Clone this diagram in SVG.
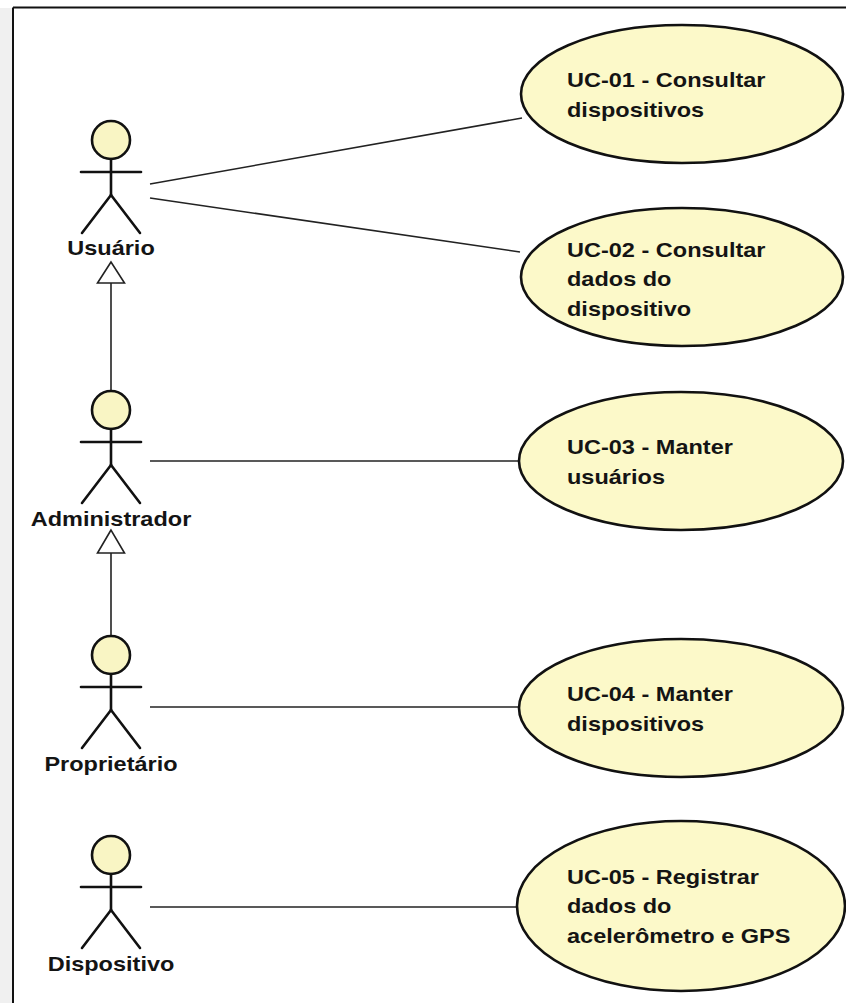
<svg xmlns="http://www.w3.org/2000/svg" width="846" height="1003" viewBox="0 0 846 1003">
  <style>
    .actor line, .actor circle { stroke: #111; stroke-width: 2.6; stroke-linecap: round; }
    .actor circle { fill: #f9f5c4; }
    .actor line { fill: none; }
    .uc ellipse { fill: #fcf9c9; stroke: #111; stroke-width: 2.6; }
    .lbl { font-family: "Liberation Sans", Arial, sans-serif; font-weight: bold; font-size: 21px; fill: #141414; }
    .mid { text-anchor: middle; }
    .assoc { stroke: #222; stroke-width: 1.6; fill: none; }
    .gen-head { fill: #fff; stroke: #222; stroke-width: 1.6; stroke-linejoin: miter; }
  </style>

  <!-- canvas and frame -->
  <rect x="0" y="0" width="846" height="1003" fill="#ffffff"/>
  <rect x="0" y="8" width="12" height="995" fill="#f0f0f0"/>
  <line x1="13" y1="7.5" x2="846" y2="7.5" stroke="#111" stroke-width="2"/>
  <line x1="13" y1="7.5" x2="13" y2="1003" stroke="#111" stroke-width="2"/>

  <!-- connectors -->
  <g id="connectors">
    <line class="assoc" x1="150" y1="184" x2="522" y2="118"/>
    <line class="assoc" x1="150" y1="198" x2="520" y2="252"/>
    <line class="assoc" x1="150" y1="461" x2="519" y2="461"/>
    <line class="assoc" x1="150" y1="707" x2="519" y2="707"/>
    <line class="assoc" x1="150" y1="907" x2="517" y2="907"/>
    <!-- generalizations -->
    <line class="assoc" x1="111" y1="391" x2="111" y2="283"/>
    <polygon class="gen-head" points="111,262 97.5,283 124.5,283"/>
    <line class="assoc" x1="111" y1="636" x2="111" y2="553"/>
    <polygon class="gen-head" points="111,530 97.5,553 124.5,553"/>
  </g>

  <!-- actors -->
  <g id="actor-usuario" class="actor">
    <circle cx="111" cy="140" r="19"/>
    <line x1="111" y1="159" x2="111" y2="195"/>
    <line x1="81" y1="172" x2="141" y2="172"/>
    <line x1="111" y1="195" x2="82" y2="233"/>
    <line x1="111" y1="195" x2="140" y2="233"/>
    <text class="lbl mid" transform="translate(111 255) scale(1.12 1)">Usuário</text>
  </g>

  <g id="actor-administrador" class="actor">
    <circle cx="111" cy="410" r="19"/>
    <line x1="111" y1="429" x2="111" y2="465"/>
    <line x1="81" y1="442" x2="141" y2="442"/>
    <line x1="111" y1="465" x2="82" y2="503"/>
    <line x1="111" y1="465" x2="140" y2="503"/>
    <text class="lbl mid" transform="translate(111 526) scale(1.12 1)">Administrador</text>
  </g>

  <g id="actor-proprietario" class="actor">
    <circle cx="111" cy="655" r="19"/>
    <line x1="111" y1="674" x2="111" y2="710"/>
    <line x1="81" y1="687" x2="141" y2="687"/>
    <line x1="111" y1="710" x2="82" y2="748"/>
    <line x1="111" y1="710" x2="140" y2="748"/>
    <text class="lbl mid" transform="translate(111 771) scale(1.12 1)">Proprietário</text>
  </g>

  <g id="actor-dispositivo" class="actor">
    <circle cx="111" cy="855" r="19"/>
    <line x1="111" y1="874" x2="111" y2="910"/>
    <line x1="81" y1="887" x2="141" y2="887"/>
    <line x1="111" y1="910" x2="82" y2="948"/>
    <line x1="111" y1="910" x2="140" y2="948"/>
    <text class="lbl mid" transform="translate(111 971) scale(1.12 1)">Dispositivo</text>
  </g>

  <!-- use cases -->
  <g id="uc-01" class="uc">
    <ellipse cx="682" cy="94" rx="161" ry="69"/>
    <text class="lbl" transform="translate(567 87) scale(1.12 1)"><tspan x="0" y="0">UC-01 - Consultar</tspan><tspan x="0" y="30">dispositivos</tspan></text>
  </g>

  <g id="uc-02" class="uc">
    <ellipse cx="682" cy="277" rx="161" ry="69"/>
    <text class="lbl" transform="translate(567 257) scale(1.12 1)"><tspan x="0" y="0">UC-02 - Consultar</tspan><tspan x="0" y="29.5">dados do</tspan><tspan x="0" y="59">dispositivo</tspan></text>
  </g>

  <g id="uc-03" class="uc">
    <ellipse cx="681" cy="461" rx="162" ry="69"/>
    <text class="lbl" transform="translate(567 454) scale(1.12 1)"><tspan x="0" y="0">UC-03 - Manter</tspan><tspan x="0" y="30">usuários</tspan></text>
  </g>

  <g id="uc-04" class="uc">
    <ellipse cx="681" cy="708" rx="162" ry="69"/>
    <text class="lbl" transform="translate(567 701) scale(1.12 1)"><tspan x="0" y="0">UC-04 - Manter</tspan><tspan x="0" y="30">dispositivos</tspan></text>
  </g>

  <g id="uc-05" class="uc">
    <ellipse cx="681" cy="906" rx="164" ry="85"/>
    <text class="lbl" transform="translate(567 884) scale(1.12 1)"><tspan x="0" y="0">UC-05 - Registrar</tspan><tspan x="0" y="29.5">dados do</tspan><tspan x="0" y="59">acelerômetro e GPS</tspan></text>
  </g>
</svg>
